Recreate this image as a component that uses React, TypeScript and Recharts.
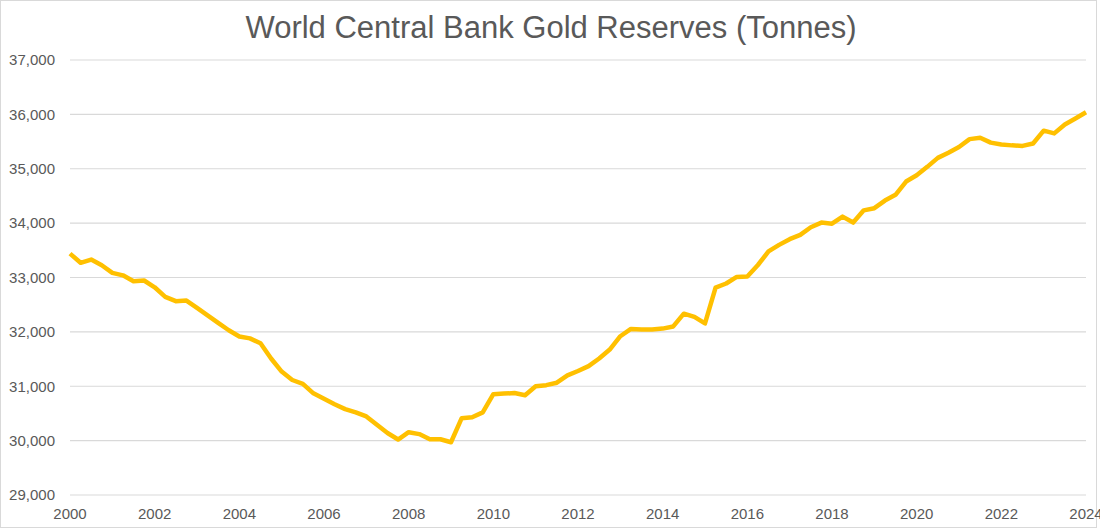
import React from 'react';
import { LineChart, Line, XAxis, YAxis, CartesianGrid } from 'recharts';

// quarterly readings, 2000 Q1 .. 2024 Q1
const years = Array.from({ length: 25 }, (_, i) => 2000 + i);
const quarters = ['Q1', 'Q2', 'Q3', 'Q4'];

const reserves = [
  33440, 33270, 33330, 33225, 33085, 33040, 32930, 32945,
  32820, 32645, 32565, 32575, 32440, 32305, 32165, 32030,
  31915, 31880, 31790, 31510, 31270, 31115, 31045, 30870,
  30770, 30670, 30580, 30520, 30445, 30290, 30140, 30020,
  30155, 30120, 30025, 30025, 29970, 30410, 30430, 30520,
  30855, 30865, 30875, 30835, 31000, 31020, 31065, 31200,
  31280, 31370, 31510, 31675, 31920, 32055, 32045, 32045,
  32060, 32100, 32335, 32275, 32155, 32815, 32890, 33010,
  33020, 33230, 33480, 33600, 33705, 33785, 33925, 34010,
  33990, 34120, 34010, 34235, 34275, 34415, 34520, 34765,
  34880, 35035, 35200, 35295, 35400, 35545, 35570, 35480,
  35445, 35430, 35420, 35465, 35700, 35650, 35815, 35925,
  36040,
];

const yTicks = [29000, 30000, 31000, 32000, 33000, 34000, 35000, 36000, 37000];

const periods = years.flatMap(y => quarters.map(q => `${y} ${q}`)).slice(0, reserves.length);
const data = periods.map((p, i) => ({ period: p, tonnes: reserves[i] }));

const font = '"Liberation Sans", Arial, sans-serif';
const textColor = '#595959';

export default function App() {
  return (
    <div style={{ position: 'absolute', left: 0, top: 0, width: 1100, height: 530, overflow: 'hidden', background: '#fff', fontFamily: font }}>
      <div style={{ position: 'absolute', left: 0, top: 0, width: 1095, height: 526, border: '1px solid #d9d9d9' }} />
      <div style={{ position: 'absolute', left: 0, top: 10, width: 1102, textAlign: 'center', fontSize: 31, color: textColor }}>
        World Central Bank Gold Reserves (Tonnes)
      </div>
      <div style={{ position: 'absolute', left: 0, top: 0 }}>
        <LineChart width={1100} height={527} data={data} margin={{ top: 60, right: 14, bottom: 0, left: 0 }}>
          <CartesianGrid vertical={false} stroke="#d9d9d9" strokeWidth={1.2} />
          <XAxis
            dataKey="period"
            interval={7}
            axisLine={false}
            tickLine={false}
            tickSize={0}
            tickMargin={13}
            height={32}
            tick={{ fontSize: 15, fill: textColor, fontFamily: font }}
            tickFormatter={(v: string) => v.slice(0, 4)}
          />
          <YAxis
            domain={[29000, 37000]}
            ticks={yTicks}
            width={70}
            axisLine={false}
            tickLine={false}
            tickSize={0}
            tickMargin={15}
            tick={{ fontSize: 15, fill: textColor, fontFamily: font }}
            tickFormatter={(v: number) => v.toLocaleString('en-US')}
          />
          <Line
            type="linear"
            dataKey="tonnes"
            stroke="#FFC000"
            strokeWidth={4.5}
            strokeLinejoin="round"
            dot={false}
            isAnimationActive={false}
          />
        </LineChart>
      </div>
    </div>
  );
}
